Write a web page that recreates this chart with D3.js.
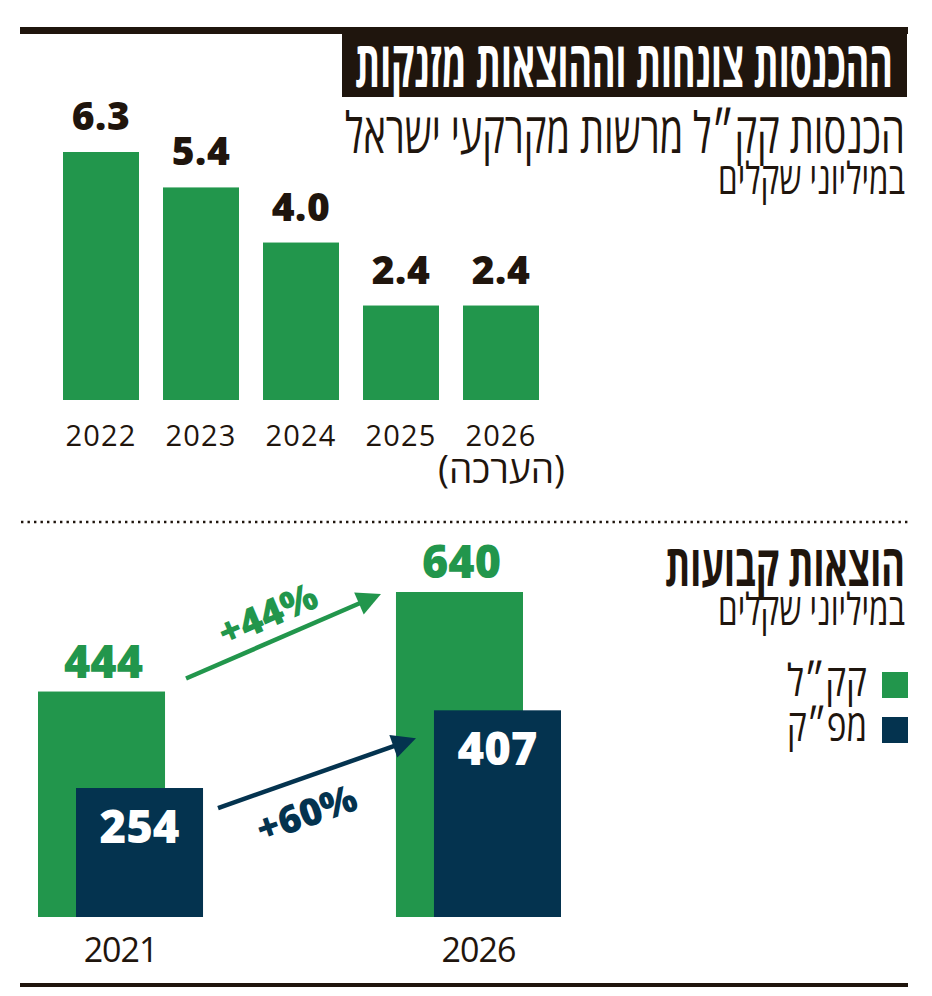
<!DOCTYPE html>
<html lang="he">
<head>
<meta charset="utf-8">
<script src="https://cdn.jsdelivr.net/npm/d3@7/dist/d3.min.js"></script>
<style>
  html, body { margin: 0; padding: 0; background: #fff; }
  svg { display: block; }
</style>
</head>
<body>
<svg id="chart" width="932" height="996"></svg>
<script>
// ---------- data ----------
const mainTitle = "ההכנסות צונחות וההוצאות מזנקות";
const topTitle = "הכנסות קק״ל מרשות מקרקעי ישראל";
const unitLabel = "במיליוני שקלים";
const topYears = ["2022", "2023", "2024", "2025", "2026"];
const topValues = [6.3, 5.4, 4.0, 2.4, 2.4];
const estimateNote = "(הערכה)";

const bottomTitle = "הוצאות קבועות";
const bottomYears = ["2021", "2026"];
const seriesNames = ["קק״ל", "מפ״ק"];
const kklValues = [444, 640];
const mpkValues = [254, 407];
const changeLabels = ["+44%", "+60%"];

// ---------- style ----------
const GREEN = "#22964c";
const NAVY = "#04334f";
const DARK = "#1f150d";
const HEB = "'Open Sans', 'Liberation Sans', 'DejaVu Sans', sans-serif";
const NUM = "'Open Sans', 'Liberation Sans', sans-serif";

const svg = d3.select("#chart");

// frame rules
svg.append("rect").attr("x", 20).attr("y", 27).attr("width", 888).attr("height", 7).attr("fill", DARK);
svg.append("rect").attr("x", 342).attr("y", 27).attr("width", 565).attr("height", 70).attr("fill", DARK);
svg.append("rect").attr("x", 20).attr("y", 983).attr("width", 888).attr("height", 4).attr("fill", DARK);
svg.append("line").attr("x1", 21).attr("x2", 908).attr("y1", 522).attr("y2", 522)
  .attr("stroke", DARK).attr("stroke-width", 2.4).attr("stroke-dasharray", "2.4,4.1");

// text fitted horizontally to a target width (left edge x, baseline y)
function fitText(txt, x, y, size, weight, len, fill, family) {
  const t = svg.append("text").text(txt)
    .attr("x", 0).attr("y", 0)
    .attr("font-family", family || HEB).attr("font-size", size).attr("font-weight", weight)
    .attr("fill", fill || DARK);
  const w = t.node().getComputedTextLength();
  t.attr("transform", `translate(${x},${y}) scale(${len / w},1)`);
  return t;
}
// centered fitted text
function fitCenter(txt, cx, y, size, weight, len, fill, rot) {
  const t = svg.append("text").text(txt)
    .attr("x", 0).attr("y", 0).attr("text-anchor", "middle")
    .attr("font-family", NUM).attr("font-size", size).attr("font-weight", weight)
    .attr("fill", fill || DARK);
  const w = t.node().getComputedTextLength();
  t.attr("transform", `translate(${cx},${y})${rot ? ` rotate(${rot})` : ""} scale(${len / w},1)`);
  return t;
}

fitText(mainTitle, 355, 87, 64, 700, 538, "#fff");
fitText(topTitle, 345, 153, 56, 500, 560);
fitText(unitLabel, 718, 194, 44, 400, 187);
fitText(bottomTitle, 665, 586, 57, 700, 240);
fitText(unitLabel, 718, 625, 44, 400, 187);

// ---------- top chart ----------
const xT = d3.scaleBand().domain(topYears).range([51, 551]).paddingInner(0.24).paddingOuter(0.12);
const yT = d3.scaleLinear().domain([0, 6.3]).range([400, 152]);

svg.append("g").selectAll("rect").data(topValues).join("rect")
  .attr("x", (d, i) => xT(topYears[i]))
  .attr("y", d => yT(d))
  .attr("width", xT.bandwidth())
  .attr("height", d => yT(0) - yT(d))
  .attr("fill", GREEN);

svg.append("g").selectAll("text").data(topValues).join("text")
  .attr("x", (d, i) => xT(topYears[i]) + xT.bandwidth() / 2)
  .attr("y", d => yT(d) - 22)
  .attr("text-anchor", "middle")
  .attr("font-family", NUM).attr("font-weight", 800).attr("font-size", 39)
  .attr("letter-spacing", 0.5)
  .attr("fill", DARK)
  .text(d => d3.format(".1f")(d));

const axT = svg.append("g").attr("transform", "translate(0,400)")
  .call(d3.axisBottom(xT).tickSize(0).tickPadding(0));
axT.select(".domain").remove();
axT.selectAll("text")
  .attr("y", 46).attr("dy", null)
  .attr("font-family", NUM).attr("font-size", 29).attr("font-weight", 400)
  .attr("letter-spacing", 1.2).attr("fill", DARK);

fitText(estimateNote, 438, 483, 38, 400, 127);

// ---------- bottom chart ----------
const xB = d3.scaleBand().domain(bottomYears).range([38, 561]).paddingInner(0.539).paddingOuter(0);
const offs = d3.scalePoint().domain(seriesNames).range([0, 38]);
const barW = xB.bandwidth() - 38;
const yB = d3.scaleLinear().domain([0, 640]).range([917, 592]);

const rows = bottomYears.map((y, i) => ({ year: y, vals: [kklValues[i], mpkValues[i]] }));
const colors = [GREEN, NAVY];

rows.forEach(r => {
  r.vals.forEach((v, j) => {
    svg.append("rect")
      .attr("x", xB(r.year) + offs(seriesNames[j]))
      .attr("y", yB(v))
      .attr("width", barW)
      .attr("height", yB(0) - yB(v))
      .attr("fill", colors[j]);
  });
});

// value labels
rows.forEach(r => {
  fitCenter(String(r.vals[0]), xB(r.year) + offs(seriesNames[0]) + barW / 2 + 2, yB(r.vals[0]) - 14, 46, 800, 79, GREEN);
  fitCenter(String(r.vals[1]), xB(r.year) + offs(seriesNames[1]) + barW / 2, yB(r.vals[1]) + 55, 46, 800, 80, "#fff");
});

const axB = svg.append("g").attr("transform", "translate(0,917)")
  .call(d3.axisBottom(xB).tickSize(0).tickPadding(0));
axB.select(".domain").remove();
axB.selectAll("text")
  .attr("y", 45).attr("dy", null)
  .attr("font-family", NUM).attr("font-size", 34).attr("font-weight", 400)
  .attr("letter-spacing", -1).attr("fill", DARK);

// growth arrows
function arrow(x1, y1, x2, y2, color) {
  const a = Math.atan2(y2 - y1, x2 - x1);
  const L = 24, W = 12;
  const bx = x2 - L * Math.cos(a), by = y2 - L * Math.sin(a);
  svg.append("line").attr("x1", x1).attr("y1", y1).attr("x2", bx + 2 * Math.cos(a)).attr("y2", by + 2 * Math.sin(a))
    .attr("stroke", color).attr("stroke-width", 4.5);
  const px = -Math.sin(a) * W, py = Math.cos(a) * W;
  svg.append("polygon")
    .attr("points", [[x2, y2], [bx + px, by + py], [bx - px, by - py]].map(p => p.join(",")).join(" "))
    .attr("fill", color);
  return a * 180 / Math.PI;
}

const gx0 = xB(bottomYears[0]), gx1 = xB(bottomYears[1]);
const angG = arrow(gx0 + offs(seriesNames[0]) + barW + 21, yB(kklValues[0]) - 13,
                   gx1 + offs(seriesNames[0]) - 15, yB(kklValues[1]) + 2, GREEN);
const angN = arrow(gx0 + offs(seriesNames[1]) + barW + 15, yB(mpkValues[0]) + 20,
                   gx1 + offs(seriesNames[1]) - 18, yB(mpkValues[1]) + 28, NAVY);

fitCenter(changeLabels[0], 267, 613, 38, 800, 104, GREEN, angG).attr("dominant-baseline", "central");
fitCenter(changeLabels[1], 306, 812, 38, 800, 104, NAVY, angN).attr("dominant-baseline", "central");

// legend
seriesNames.forEach((s, i) => {
  svg.append("rect").attr("x", 882).attr("y", 672 + i * 45).attr("width", 26).attr("height", 26).attr("fill", colors[i]);
  fitText(s, 787, 696 + i * 45, 44, 400, 80);
});
</script>
</body>
</html>
